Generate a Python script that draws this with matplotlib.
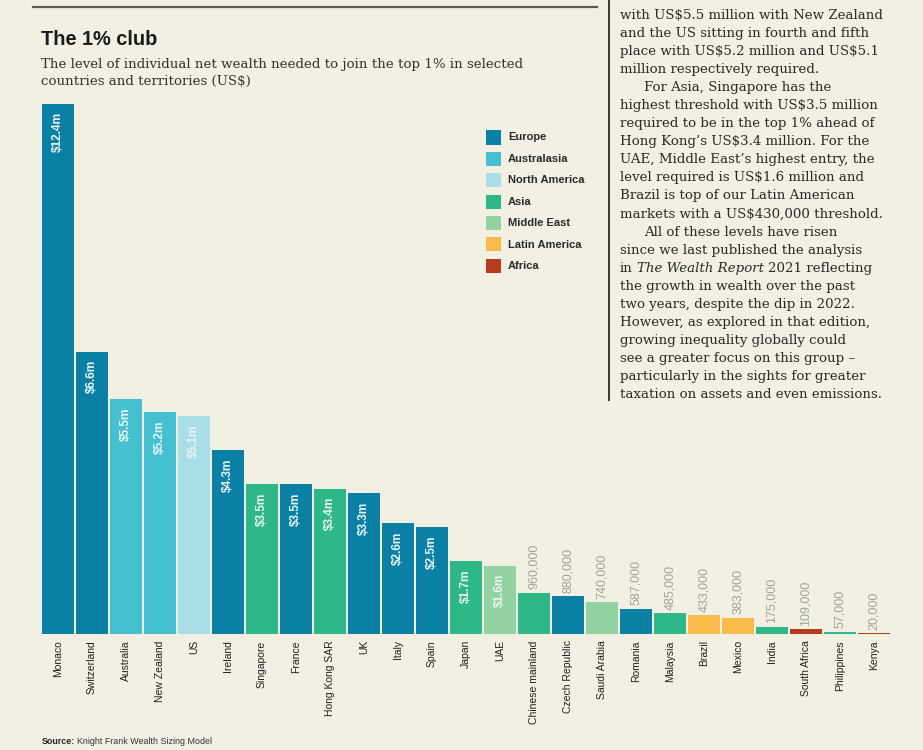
import numpy as np
import matplotlib
matplotlib.use("Agg")
import matplotlib.pyplot as plt
from matplotlib.patches import Rectangle
from matplotlib.lines import Line2D

plt.rcParams["text.parse_math"] = False

# ---------------- data ----------------
countries = ["Monaco", "Switzerland", "Australia", "New Zealand", "US", "Ireland",
             "Singapore", "France", "Hong Kong SAR", "UK", "Italy", "Spain", "Japan",
             "UAE", "Chinese mainland", "Czech Republic", "Saudi Arabia", "Romania",
             "Malaysia", "Brazil", "Mexico", "India", "South Africa", "Philippines", "Kenya"]
values_musd = [12.4, 6.6, 5.5, 5.2, 5.1, 4.3, 3.5, 3.5, 3.4, 3.3, 2.6, 2.5, 1.7, 1.6,
               0.96, 0.88, 0.74, 0.587, 0.485, 0.433, 0.383, 0.175, 0.109, 0.057, 0.020]
value_labels = ["$12.4m", "$6.6m", "$5.5m", "$5.2m", "$5.1m", "$4.3m", "$3.5m", "$3.5m",
                "$3.4m", "$3.3m", "$2.6m", "$2.5m", "$1.7m", "$1.6m", "960,000", "880,000",
                "740,000", "587,000", "485,000", "433,000", "383,000", "175,000", "109,000",
                "57,000", "20,000"]
regions = ["Europe", "Europe", "Australasia", "Australasia", "North America", "Europe",
           "Asia", "Europe", "Asia", "Europe", "Europe", "Europe", "Asia", "Middle East",
           "Asia", "Europe", "Middle East", "Europe", "Asia", "Latin America",
           "Latin America", "Asia", "Africa", "Asia", "Africa"]
legend_regions = ["Europe", "Australasia", "North America", "Asia", "Middle East",
                  "Latin America", "Africa"]
region_colors = {"Europe": "#0a80a4", "Australasia": "#44c0d2", "North America": "#a9dee8",
                 "Asia": "#2fb887", "Middle East": "#93d3a2", "Latin America": "#fbba4c",
                 "Africa": "#b53c1c"}

title = "The 1% club"
subtitle = ["The level of individual net wealth needed to join the top 1% in selected",
            "countries and territories (US$)"]
source_bold = "Source:"
source_rest = "Knight Frank Wealth Sizing Model"
body_lines = [
    (0, "with US$5.5 million with New Zealand"),
    (0, "and the US sitting in fourth and fifth"),
    (0, "place with US$5.2 million and US$5.1"),
    (0, "million respectively required."),
    (1, "For Asia, Singapore has the"),
    (0, "highest threshold with US$3.5 million"),
    (0, "required to be in the top 1% ahead of"),
    (0, "Hong Kong’s US$3.4 million. For the"),
    (0, "UAE, Middle East’s highest entry, the"),
    (0, "level required is US$1.6 million and"),
    (0, "Brazil is top of our Latin American"),
    (0, "markets with a US$430,000 threshold."),
    (1, "All of these levels have risen"),
    (0, "since we last published the analysis"),
    (0, ["in", "The Wealth Report", "2021 reflecting"]),
    (0, "the growth in wealth over the past"),
    (0, "two years, despite the dip in 2022."),
    (0, "However, as explored in that edition,"),
    (0, "growing inequality globally could"),
    (0, "see a greater focus on this group –"),
    (0, "particularly in the sights for greater"),
    (0, "taxation on assets and even emissions."),
]

# ---------------- figure ----------------
W, H = 923, 750
BG = "#f1f0e2"
fig = plt.figure(figsize=(W / 100, H / 100), dpi=100, facecolor=BG)


def fx(x):
    return x / W


def fy(y):
    return 1 - y / H


SANS = "Liberation Sans"
SERIF = "DejaVu Serif"

ax = fig.add_axes([fx(41), fy(634), fx(891) - fx(41), fy(104) - fy(634)])
ax.set_facecolor("none")
xpos = np.arange(len(countries))
ax.bar(xpos, values_musd, width=0.92, color=[region_colors[r] for r in regions], linewidth=0)
ax.set_xlim(-0.5, len(countries) - 0.5)
ax.set_ylim(0, max(values_musd))
for s in ax.spines.values():
    s.set_visible(False)
ax.set_yticks([])
ax.set_xticks(xpos)
ax.set_xticklabels(countries, rotation=90, fontsize=7.5, family=SANS, color="#202020")
ax.tick_params(axis="x", length=0, pad=4.5)

for i, (v, lab) in enumerate(zip(values_musd, value_labels)):
    if v >= 1.0:
        ax.annotate(lab, (i, v), xytext=(0, -6), textcoords="offset points", rotation=90,
                    ha="center", va="top", color="#e8f4f2", fontsize=8.6, family=SANS,
                    fontweight="bold", annotation_clip=False)
    else:
        ax.annotate(lab, (i, v), xytext=(0, 2.5), textcoords="offset points", rotation=90,
                    ha="center", va="bottom", color="#a2a2a0", fontsize=9, family=SANS,
                    annotation_clip=False)

# rules
fig.add_artist(Line2D([fx(33), fx(597)], [fy(7), fy(7)], transform=fig.transFigure,
                      color="#5a5a55", lw=1.6))
fig.add_artist(Line2D([fx(609), fx(609)], [fy(0), fy(400)], transform=fig.transFigure,
                      color="#3a3a36", lw=1.4))

renderer = fig.canvas.get_renderer()


def fit(t, target):
    w = t.get_window_extent(renderer).width
    t.set_fontsize(t.get_fontsize() * target / w)
    return t.get_fontsize()


# title + subtitle
tt = fig.text(fx(41), fy(45), title, fontsize=14, fontweight="bold", family=SANS,
              va="baseline", color="#1b1b1b")
fit(tt, 117)
sub_ts = []
for k, line in enumerate(subtitle):
    t = fig.text(fx(41), fy(68 + 16.5 * k), line, fontsize=9, family=SERIF,
                 va="baseline", color="#333330")
    sub_ts.append(t)
fs_sub = fit(sub_ts[0], 482)
sub_ts[1].set_fontsize(fs_sub)

# legend
for j, r in enumerate(legend_regions):
    yc = 137.5 + 21.4 * j
    fig.add_artist(Rectangle((fx(486), fy(yc + 7)), 15 / W, 14 / H, transform=fig.transFigure,
                             facecolor=region_colors[r], edgecolor="none"))
    fig.text(fx(508), fy(yc), r, fontsize=8, fontweight="bold", family=SANS,
             va="center", ha="left", color="#2a2a2a")

# source
ts = fig.text(fx(42), fy(741.5), source_bold, fontsize=6.4, fontweight="bold", family=SANS,
              va="center", color="#222")
ax.annotate(source_rest, xy=(1, 0.5), xycoords=ts, xytext=(1.6, 0), textcoords="offset points",
            va="center", ha="left", fontsize=6.4, family=SANS, color="#333",
            annotation_clip=False)

# body text column
probe = fig.text(0, 0, body_lines[0][1], fontsize=9.5, family=SERIF)
fs_body = fit(probe, 263)
probe.remove()
BODY_COL = "#2b2a26"
for k, (indent, line) in enumerate(body_lines):
    yb = 19 + 18.05 * k
    x0 = 644 if indent else 620
    if isinstance(line, list):
        t1 = fig.text(fx(x0), fy(yb), line[0], fontsize=fs_body, family=SERIF,
                      va="baseline", color=BODY_COL)
        t2 = ax.annotate(line[1], xy=(1, 0), xycoords=t1, xytext=(fs_body * 0.3, 0),
                         textcoords="offset points", va="bottom", ha="left",
                         fontsize=fs_body, family=SERIF, style="italic", color=BODY_COL,
                         annotation_clip=False)
        ax.annotate(line[2], xy=(1, 0), xycoords=t2, xytext=(fs_body * 0.3, 0),
                    textcoords="offset points", va="bottom", ha="left",
                    fontsize=fs_body, family=SERIF, color=BODY_COL, annotation_clip=False)
    else:
        fig.text(fx(x0), fy(yb), line, fontsize=fs_body, family=SERIF,
                 va="baseline", color=BODY_COL)

fig.savefig("out.png", dpi=100, facecolor=BG)
